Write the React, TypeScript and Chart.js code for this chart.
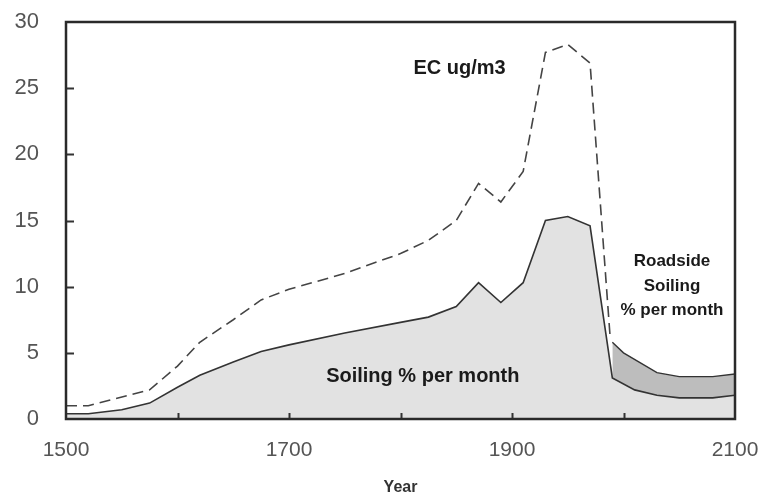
import React, { useEffect, useRef } from "react";
import { Chart, registerables } from "chart.js";

Chart.register(...registerables);

// Soiling % per month (light grey area)
const soilingYears = [1500, 1520, 1550, 1575, 1600, 1620, 1650, 1675, 1700, 1750, 1800, 1825, 1850, 1870, 1890, 1910, 1930, 1950, 1970, 1990, 2010, 2030, 2050, 2080, 2100];
const soilingValues = [0.4, 0.4, 0.7, 1.2, 2.4, 3.3, 4.3, 5.1, 5.6, 6.5, 7.3, 7.7, 8.5, 10.3, 8.8, 10.3, 15.0, 15.3, 14.6, 3.1, 2.2, 1.8, 1.6, 1.6, 1.8];

// Roadside soiling % per month (upper edge of darker band)
const roadsideYears = [1990, 2000, 2030, 2050, 2080, 2100];
const roadsideValues = [5.8, 5.0, 3.5, 3.2, 3.2, 3.4];

// EC ug/m3 (dashed)
const ecYears = [1500, 1520, 1575, 1600, 1620, 1650, 1675, 1700, 1750, 1800, 1825, 1850, 1870, 1890, 1910, 1930, 1950, 1970, 1988];
const ecValues = [1.0, 1.0, 2.2, 4.0, 5.8, 7.5, 9.0, 9.8, 11.0, 12.5, 13.5, 15.0, 17.8, 16.4, 18.7, 27.7, 28.3, 26.9, 6.2];

const xTicksMajor = [1500, 1700, 1900, 2100];
const xAllTicks = [1500, 1600, 1700, 1800, 1900, 2000, 2100];
const xMinorTicks = [1600, 1700, 1800, 1900, 2000];
const yMinorTicks = [5, 10, 15, 20, 25];

const toPts = (xs: number[], ys: number[]) => xs.map((x, i) => ({ x, y: ys[i] }));

const FONT = "'Liberation Sans', Arial, sans-serif";

const decorPlugin = {
  id: "decor",
  afterDraw(chart: any) {
    const { ctx, chartArea, scales } = chart;
    const xs = scales.x;
    const ys = scales.y;
    ctx.save();
    // inner tick marks
    ctx.strokeStyle = "#333";
    ctx.lineWidth = 2;
    ctx.beginPath();
    xMinorTicks.forEach((v) => {
      const px = Math.round(xs.getPixelForValue(v)) + 0.5;
      ctx.moveTo(px, chartArea.bottom);
      ctx.lineTo(px, chartArea.bottom - 6);
    });
    yMinorTicks.forEach((v) => {
      const py = Math.round(ys.getPixelForValue(v)) + 0.5;
      ctx.moveTo(chartArea.left, py);
      ctx.lineTo(chartArea.left + 8, py);
    });
    ctx.stroke();
    // frame
    ctx.lineWidth = 2.5;
    ctx.strokeStyle = "#2a2a2a";
    ctx.strokeRect(chartArea.left, chartArea.top, chartArea.right - chartArea.left, chartArea.bottom - chartArea.top);

    // annotations
    ctx.fillStyle = "#1a1a1a";
    ctx.textAlign = "center";
    ctx.textBaseline = "middle";
    ctx.font = `bold 20px ${FONT}`;
    ctx.fillText("EC ug/m3", xs.getPixelForValue(1853), ys.getPixelForValue(26.5));
    ctx.fillText("Soiling % per month", xs.getPixelForValue(1820), ys.getPixelForValue(3.2));
    ctx.font = `bold 17px ${FONT}`;
    const rx = xs.getPixelForValue(2043.5);
    ctx.fillText("Roadside", rx, ys.getPixelForValue(11.9));
    ctx.fillText("Soiling", rx, ys.getPixelForValue(10.0));
    ctx.fillText("% per month", rx, ys.getPixelForValue(8.2));
    ctx.restore();
  },
};

export default function App() {
  const ref = useRef<HTMLCanvasElement | null>(null);
  useEffect(() => {
    if (!ref.current) return;
    const chart = new Chart(ref.current, {
      type: "line",
      data: {
        datasets: [
          {
            label: "Soiling % per month",
            data: toPts(soilingYears, soilingValues),
            borderColor: "#333333",
            borderWidth: 1.6,
            backgroundColor: "#e2e2e2",
            fill: "origin",
            pointRadius: 0,
            tension: 0,
          },
          {
            label: "Roadside Soiling % per month",
            data: toPts(roadsideYears, roadsideValues),
            borderColor: "#333333",
            borderWidth: 1.4,
            backgroundColor: "#bdbdbd",
            fill: 0,
            pointRadius: 0,
            tension: 0,
          },
          {
            label: "EC ug/m3",
            data: toPts(ecYears, ecValues),
            borderColor: "#444444",
            borderWidth: 1.6,
            borderDash: [11, 6],
            fill: false,
            pointRadius: 0,
            tension: 0,
          },
        ],
      },
      options: {
        animation: false,
        responsive: false,
        devicePixelRatio: 1,
        layout: { padding: { top: 22, right: 36, left: 0, bottom: 0 } },
        plugins: { legend: { display: false }, tooltip: { enabled: false } },
        scales: {
          x: {
            type: "linear",
            min: 1500,
            max: 2100,
            grid: { display: false },
            border: { display: false },
            afterFit: (s: any) => {
              s.height = 79;
              s.paddingLeft = 0;
              s.paddingRight = 0;
            },
            afterBuildTicks: (s: any) => {
              s.ticks = xAllTicks.map((v) => ({ value: v }));
            },
            ticks: {
              autoSkip: false,
              maxRotation: 0,
              padding: 11,
              color: "#555",
              font: { family: FONT, size: 21 },
              callback: (v: any) => (xTicksMajor.includes(Number(v)) ? String(v) : ""),
            },
            title: {
              display: true,
              text: "Year",
              color: "#333",
              font: { family: FONT, size: 16, weight: "bold" },
              padding: { top: 0, bottom: 1 },
            },
          },
          y: {
            min: 0,
            max: 30,
            grid: { display: false },
            border: { display: false },
            afterFit: (s: any) => {
              s.width = 66;
              s.paddingTop = 0;
              s.paddingBottom = 0;
            },
            ticks: {
              stepSize: 5,
              padding: 19,
              color: "#555",
              font: { family: FONT, size: 22 },
            },
          },
        },
      },
      plugins: [decorPlugin],
    });
    return () => chart.destroy();
  }, []);
  return (
    <div style={{ position: "fixed", left: 0, top: 0, width: 771, height: 498, background: "#fff" }}>
      <canvas ref={ref} width={771} height={498} />
    </div>
  );
}
